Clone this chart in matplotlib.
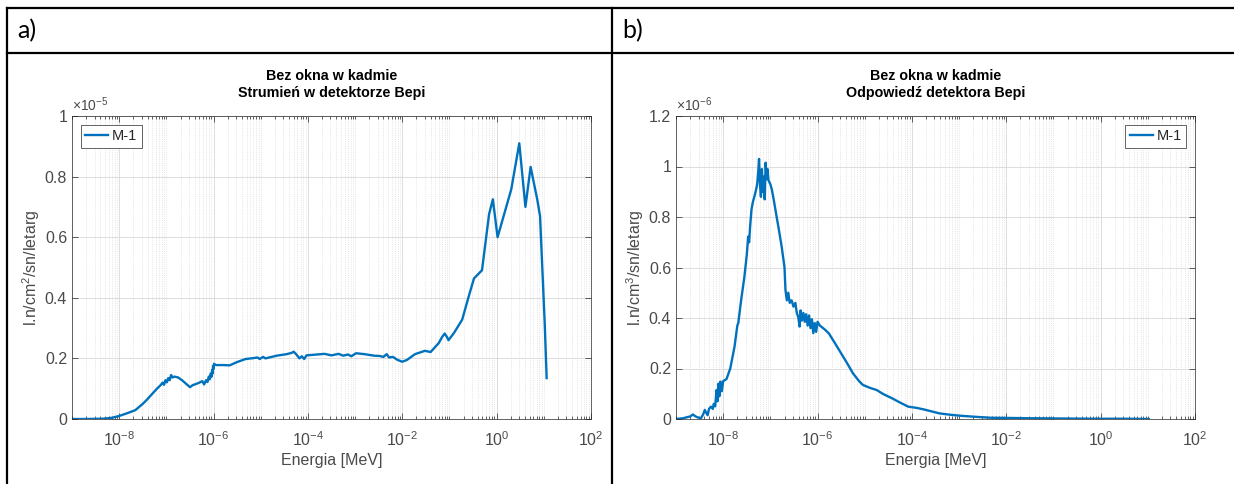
import matplotlib
matplotlib.use("Agg")
import matplotlib.pyplot as plt
from matplotlib.lines import Line2D
from matplotlib.ticker import FixedLocator, LogLocator, FuncFormatter, NullFormatter
import numpy as np

# a) Strumien w detektorze Bepi: log10(E / MeV), value in units of 1e-5
flux_logE = [-9.00, -8.70, -8.33, -8.15, -8.00, -7.85, -7.66, -7.50, -7.41, -7.30,
             -7.20, -7.12, -7.08, -7.05, -7.02, -6.99, -6.96, -6.93, -6.90, -6.87,
             -6.83, -6.75, -6.66, -6.58, -6.50, -6.44, -6.38, -6.30, -6.24, -6.20,
             -6.16, -6.13, -6.10, -6.08, -6.06, -6.04, -6.03, -6.02, -6.01, -6.00,
             -5.99, -5.95, -5.80, -5.66, -5.50, -5.32, -5.15, -5.07, -5.02, -4.95,
             -4.90, -4.66, -4.45, -4.35, -4.30, -4.25, -4.18, -4.13, -4.08, -4.03,
             -3.80, -3.65, -3.50, -3.35, -3.25, -3.15, -3.08, -2.98, -2.80, -2.60,
             -2.48, -2.40, -2.33, -2.28, -2.20, -2.10, -2.00, -1.90, -1.73, -1.52,
             -1.40, -1.30, -1.23, -1.15, -1.10, -1.05, -1.02, -0.90, -0.73, -0.60,
             -0.48, -0.31, -0.16, -0.08, 0.02, 0.31, 0.48, 0.61, 0.72, 0.86,
             0.92, 1.02, 1.06]
flux_val = [0.000, 0.000, 0.001, 0.004, 0.010, 0.018, 0.029, 0.050, 0.064, 0.083,
            0.100, 0.112, 0.120, 0.113, 0.128, 0.121, 0.135, 0.128, 0.145, 0.137,
            0.140, 0.137, 0.127, 0.116, 0.105, 0.112, 0.115, 0.120, 0.125, 0.114,
            0.128, 0.122, 0.140, 0.131, 0.150, 0.140, 0.162, 0.150, 0.175, 0.165,
            0.182, 0.178, 0.178, 0.177, 0.188, 0.198, 0.201, 0.203, 0.198, 0.205,
            0.200, 0.209, 0.214, 0.218, 0.222, 0.214, 0.200, 0.207, 0.198, 0.210,
            0.213, 0.215, 0.210, 0.215, 0.209, 0.213, 0.207, 0.217, 0.214, 0.209,
            0.208, 0.205, 0.214, 0.203, 0.205, 0.195, 0.189, 0.195, 0.214, 0.225,
            0.221, 0.238, 0.250, 0.272, 0.282, 0.270, 0.260, 0.285, 0.328, 0.400,
            0.464, 0.491, 0.676, 0.725, 0.600, 0.758, 0.910, 0.700, 0.832, 0.725,
            0.670, 0.312, 0.135]

# b) Odpowiedz detektora Bepi: log10(E / MeV), value in units of 1e-6
resp_logE = [-9.00, -8.85, -8.77, -8.70, -8.64, -8.60, -8.56, -8.50, -8.47, -8.42,
             -8.39, -8.36, -8.33, -8.30, -8.26, -8.22, -8.20, -8.17, -8.14, -8.12,
             -8.10, -8.08, -8.06, -8.03, -8.00, -7.93, -7.85, -7.76, -7.70, -7.68,
             -7.62, -7.55, -7.50, -7.47, -7.45, -7.43, -7.40, -7.37, -7.34, -7.30,
             -7.28, -7.26, -7.24, -7.22, -7.20, -7.18, -7.16, -7.14, -7.12, -7.10,
             -7.08, -7.06, -7.04, -7.00, -6.97, -6.93, -6.88, -6.82, -6.76, -6.70,
             -6.68, -6.65, -6.62, -6.59, -6.55, -6.51, -6.47, -6.44, -6.41, -6.38,
             -6.36, -6.33, -6.30, -6.27, -6.24, -6.21, -6.18, -6.15, -6.12, -6.09,
             -6.06, -6.03, -6.00, -5.95, -5.85, -5.76, -5.63, -5.50, -5.37, -5.25,
             -5.12, -5.04, -4.90, -4.75, -4.60, -4.42, -4.25, -4.08, -3.90, -3.75,
             -3.58, -3.41, -3.15, -2.91, -2.60, -2.33, -1.90, -1.50, -0.80, -0.24,
             0.50, 1.02]
resp_val = [0.000, 0.003, 0.007, 0.010, 0.018, 0.012, 0.008, 0.004, 0.003, 0.020,
            0.036, 0.025, 0.015, 0.040, 0.049, 0.040, 0.060, 0.050, 0.115, 0.070,
            0.140, 0.090, 0.148, 0.110, 0.150, 0.158, 0.200, 0.286, 0.370, 0.380,
            0.470, 0.564, 0.650, 0.722, 0.700, 0.760, 0.830, 0.860, 0.880, 0.910,
            0.930, 0.970, 1.030, 0.930, 0.880, 0.990, 0.900, 0.960, 0.870, 1.015,
            0.950, 0.990, 0.945, 0.930, 0.910, 0.870, 0.815, 0.750, 0.682, 0.600,
            0.511, 0.470, 0.500, 0.460, 0.470, 0.445, 0.460, 0.420, 0.405, 0.366,
            0.430, 0.390, 0.420, 0.385, 0.415, 0.370, 0.410, 0.360, 0.395, 0.340,
            0.380, 0.345, 0.385, 0.370, 0.355, 0.339, 0.300, 0.260, 0.220, 0.181,
            0.150, 0.135, 0.124, 0.115, 0.098, 0.082, 0.065, 0.049, 0.044, 0.038,
            0.030, 0.022, 0.016, 0.012, 0.008, 0.005, 0.004, 0.003, 0.002, 0.001,
            0.001, 0.000]

W, H = 1234, 484
plt.rcParams['font.family'] = ['Liberation Sans', 'DejaVu Sans']
plt.rcParams['mathtext.fontset'] = 'custom'
plt.rcParams['mathtext.rm'] = 'Liberation Sans'
plt.rcParams['mathtext.it'] = 'Liberation Sans:italic'
plt.rcParams['mathtext.bf'] = 'Liberation Sans:bold'
fig = plt.figure(figsize=(W / 100, H / 100), dpi=100)

BLUE = '#0072BD'
GRAY = '#262626'
TXT = '#4a4a4a'


def px_line(x0, y0, x1, y1):
    fig.add_artist(Line2D([x0 / W, x1 / W], [1 - y0 / H, 1 - y1 / H],
                          transform=fig.transFigure, color='black', lw=1.6))


# table frame
px_line(7, 8, W, 8)
px_line(7, 53, W, 53)
px_line(7, 8, 7, H)
px_line(612, 8, 612, H)
fig.text(17 / W, 1 - 31 / H, 'a)', fontsize=18, family=['Lato', 'DejaVu Sans'], va='center')
fig.text(622 / W, 1 - 31 / H, 'b)', fontsize=18, family=['Lato', 'DejaVu Sans'], va='center')


def make_panel(left_px, logE, vals, ymax, yticks, expo, title, ylabel, legloc):
    ax = fig.add_axes([left_px / W, (H - 419) / H, 519 / W, 303 / H])
    ax.plot(np.power(10.0, logE), vals, color=BLUE, lw=1.7, label='M-1')
    ax.set_xscale('log')
    ax.set_xlim(1e-9, 1e2)
    ax.set_ylim(0, ymax)
    ax.xaxis.set_major_locator(FixedLocator([1e-8, 1e-6, 1e-4, 1e-2, 1e0, 1e2]))
    ax.xaxis.set_major_formatter(FuncFormatter(lambda v, p: r'$10^{%d}$' % round(np.log10(v))))
    ax.xaxis.set_minor_locator(LogLocator(base=10, subs=np.arange(1, 10), numticks=30))
    ax.xaxis.set_minor_formatter(NullFormatter())
    ax.set_yticks(yticks)
    ax.yaxis.set_major_formatter(FuncFormatter(lambda v, p: ('%g' % round(v, 2))))
    ax.tick_params(which='both', direction='in', top=True, right=True, colors=GRAY,
                   labelcolor=TXT, labelsize=11.5, width=0.5)
    ax.tick_params(which='major', length=4)
    ax.tick_params(which='minor', length=2)
    ax.tick_params(axis='x', which='major', pad=8)
    ax.grid(True, which='major', color='#d8d8d8', lw=0.6)
    ax.grid(True, which='minor', axis='x', color='#d4d4d4', lw=0.5, ls=':')
    ax.set_axisbelow(True)
    for s in ax.spines.values():
        s.set_color(GRAY)
        s.set_linewidth(0.5)
    ax.set_title(title, fontsize=10.3, fontweight='bold', color='black', pad=14, linespacing=1.25)
    ax.set_xlabel('Energia [MeV]', fontsize=11.5, color=TXT, labelpad=3)
    ax.set_ylabel(ylabel, fontsize=11.5, color=TXT, labelpad=2)
    ax.text(0.0, 1.008, r'$\times10^{%d}$' % expo, transform=ax.transAxes,
            fontsize=10, color=TXT, ha='left', va='bottom')
    leg = ax.legend(loc=legloc, fontsize=10.5, handlelength=1.6, handletextpad=0.25,
                    fancybox=False, framealpha=1, borderpad=0.3, borderaxespad=0.6)
    leg.get_frame().set_edgecolor(GRAY)
    leg.get_frame().set_linewidth(0.5)
    for t in leg.get_texts():
        t.set_color(GRAY)
    return ax


make_panel(72, flux_logE, flux_val, 1.0, [0, 0.2, 0.4, 0.6, 0.8, 1.0], -5,
           'Bez okna w kadmie\nStrumień w detektorze Bepi',
           'l.n/cm$^2$/sn/letarg', 'upper left')
make_panel(676, resp_logE, resp_val, 1.2, [0, 0.2, 0.4, 0.6, 0.8, 1.0, 1.2], -6,
           'Bez okna w kadmie\nOdpowiedź detektora Bepi',
           'l.n/cm$^3$/sn/letarg', 'upper right')

fig.savefig('out.png', dpi=100)
